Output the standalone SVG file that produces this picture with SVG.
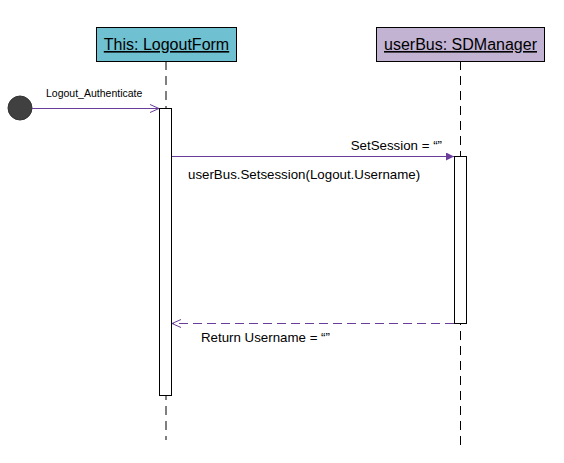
<svg xmlns="http://www.w3.org/2000/svg" width="564" height="463" viewBox="0 0 564 463">
<defs>
<style>
.lbl{font-family:"Liberation Sans",Arial,sans-serif;fill:#000}
.head{font-family:"Liberation Sans",Arial,sans-serif;font-size:16px;fill:#000;text-decoration:underline;text-anchor:middle}
.life{stroke:#000;stroke-width:1;stroke-dasharray:9,6;fill:none}
.act{fill:#fff;stroke:#000;stroke-width:1}
.msg{stroke:#6a3d9a;stroke-width:1;fill:none}
</style>
<marker id="open" markerWidth="12" markerHeight="10" refX="10" refY="5" orient="auto" markerUnits="userSpaceOnUse">
<path d="M1,1 L10,5 L1,9" fill="none" stroke="#6a3d9a" stroke-width="1"/>
</marker>
<marker id="filled" markerWidth="10" markerHeight="8" refX="8" refY="4" orient="auto" markerUnits="userSpaceOnUse">
<path d="M0,0 L8,4 L0,8 Z" fill="#6a3d9a"/>
</marker>
</defs>
<rect width="564" height="463" fill="#fff"/>
<g id="lifelines">
<line class="life" x1="166" y1="61" x2="166" y2="440"/>
<line class="life" x1="460.5" y1="61" x2="460.5" y2="446"/>
</g>
<g id="node-logoutform">
<rect x="96.5" y="27.5" width="140" height="34" fill="#6fc1d1" stroke="#000"/>
<text class="head" x="166.5" y="50">This: LogoutForm</text>
</g>
<g id="node-sdmanager">
<rect x="376.5" y="27.5" width="168" height="34" fill="#c2b3d3" stroke="#000"/>
<text class="head" x="460.5" y="50">userBus: SDManager</text>
</g>
<g id="node-start">
<circle cx="20" cy="108" r="12" fill="#404040" stroke="#333"/>
</g>
<g id="activation-logoutform">
<rect class="act" x="159.5" y="108.5" width="12" height="287"/>
</g>
<g id="activation-sdmanager">
<rect class="act" x="454.5" y="156.5" width="12" height="167"/>
</g>
<g id="connectors">
<line class="msg" x1="32" y1="108.5" x2="159" y2="108.5" marker-end="url(#open)"/>
<line class="msg" x1="172" y1="156.5" x2="454" y2="156.5" marker-end="url(#filled)"/>
<line class="msg" x1="454" y1="323.5" x2="172" y2="323.5" stroke-dasharray="9,5" marker-end="url(#open)"/>
</g>
<g id="labels">
<text class="lbl" x="46" y="97" font-size="10.5">Logout_Authenticate</text>
<text class="lbl" x="442" y="150" font-size="13.3" text-anchor="end">SetSession = “”</text>
<text class="lbl" x="188" y="179" font-size="13.3">userBus.Setsession(Logout.Username)</text>
<text class="lbl" x="201" y="342" font-size="13.3">Return Username = “”</text>
</g>
</svg>
